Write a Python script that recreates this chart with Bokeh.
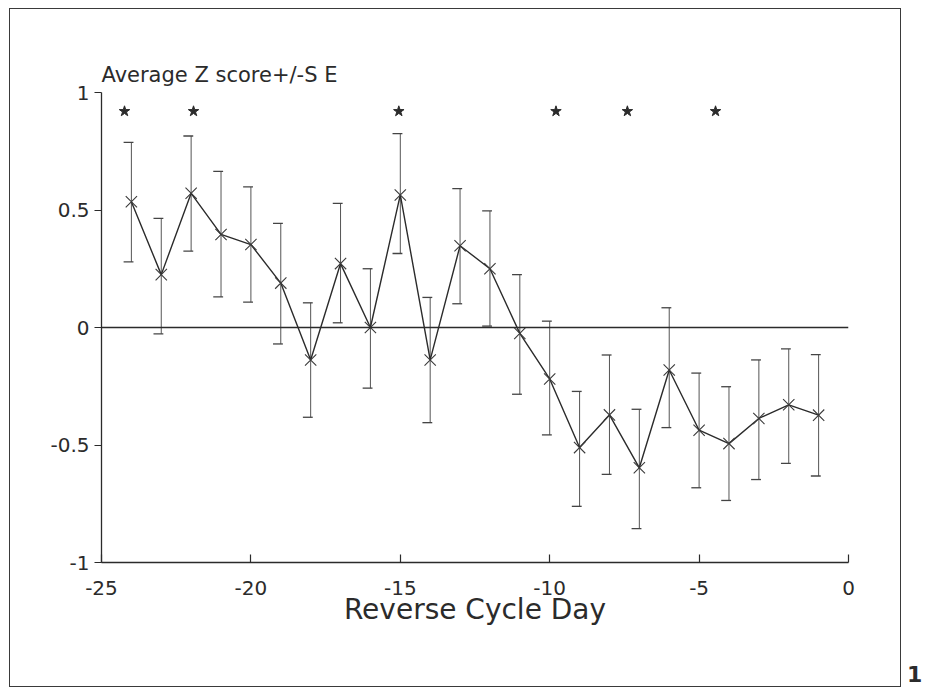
from bokeh.plotting import figure
from bokeh.models import Span, Title, Div, FixedTicker, Range1d
from bokeh.layouts import row
from bokeh.embed import file_html
from bokeh.resources import INLINE

days = list(range(-24, 0))
means = [0.535, 0.225, 0.571, 0.396, 0.353, 0.189, -0.138, 0.272, 0.0, 0.564,
         -0.138, 0.348, 0.25, -0.025, -0.219, -0.511, -0.372, -0.597, -0.181,
         -0.437, -0.494, -0.387, -0.329, -0.373]
upper = [0.788, 0.464, 0.815, 0.664, 0.598, 0.443, 0.105, 0.528, 0.25, 0.825,
         0.128, 0.591, 0.496, 0.225, 0.027, -0.272, -0.117, -0.348, 0.084,
         -0.194, -0.252, -0.138, -0.091, -0.115]
lower = [0.279, -0.027, 0.325, 0.13, 0.108, -0.07, -0.382, 0.02, -0.258, 0.315,
         -0.405, 0.101, 0.006, -0.284, -0.457, -0.761, -0.625, -0.856, -0.426,
         -0.682, -0.736, -0.647, -0.578, -0.632]
star_x = [-24.23, -21.92, -15.05, -9.79, -7.4, -4.45]
star_y = [0.92] * len(star_x)

x_ticks = [-25, -20, -15, -10, -5, 0]
y_ticks = [-1, -0.5, 0, 0.5, 1]
y_labels = {-1: "-1", -0.5: "-0.5", 0: "0", 0.5: "0.5", 1: "1"}
x_labels = {v: str(v) for v in x_ticks}

FONT = "DejaVu Sans"
INK = "#2b2b2b"

p = figure(width=892, height=679, output_backend="svg", toolbar_location=None,
           x_range=Range1d(-25, 0), y_range=Range1d(-1, 1),
           min_border_left=91, min_border_right=54, min_border_top=83,
           min_border_bottom=126, margin=(8, 0, 0, 9),
           styles={"border": "1.5px solid #3a3a3a", "box-sizing": "border-box"})
p.outline_line_color = None
p.grid.visible = False
p.background_fill_color = "#ffffff"
p.border_fill_color = "#ffffff"

t = Title(text="Average Z score+/-S E", align="left", text_font=FONT,
          text_font_size="21px", text_font_style="normal", text_color=INK,
          offset=0, standoff=12)
p.add_layout(t, "above")

# axes
p.xaxis.ticker = FixedTicker(ticks=x_ticks)
p.xaxis.major_label_overrides = x_labels
p.yaxis.ticker = FixedTicker(ticks=y_ticks)
p.yaxis.major_label_overrides = y_labels
for ax in (p.xaxis[0], p.yaxis[0]):
    ax.axis_line_color = INK
    ax.axis_line_width = 1.3
    ax.major_tick_line_color = INK
    ax.major_tick_line_width = 1.2
    ax.minor_tick_line_color = None
    ax.major_label_text_font = FONT
    ax.major_label_text_font_size = "20px"
    ax.major_label_text_color = INK
p.xaxis.major_tick_in = 8
p.xaxis.major_tick_out = 0
p.xaxis.major_label_standoff = 18
p.xaxis.axis_label = "Reverse Cycle Day"
p.xaxis.axis_label_text_font = FONT
p.xaxis.axis_label_text_font_size = "28px"
p.xaxis.axis_label_text_font_style = "normal"
p.xaxis.axis_label_text_color = INK
p.xaxis.axis_label_standoff = -5
p.yaxis.major_tick_in = 0
p.yaxis.major_tick_out = 7
p.yaxis.major_label_standoff = 5

# zero line
p.add_layout(Span(location=0, dimension="width", line_color=INK, line_width=1.3))

# error bars
p.segment(x0=days, y0=lower, x1=days, y1=upper, line_color="#555555", line_width=1)
cap_l = [d - 0.26 for d in days]
cap_r = [d + 0.07 for d in days]
p.segment(x0=cap_l, y0=upper, x1=cap_r, y1=upper, line_color="#444444", line_width=1.3)
p.segment(x0=cap_l, y0=lower, x1=cap_r, y1=lower, line_color="#444444", line_width=1.3)

# data line and markers
p.line(days, means, line_color=INK, line_width=1.4)
p.scatter(days, means, marker="x", size=16, line_color="#3a3a3a", line_width=1.1)

# significance stars
p.scatter(star_x, star_y, marker="star", size=11, fill_color=INK, line_color=INK)

page_no = Div(text="1", styles={"font-family": FONT, "font-size": "22px",
                               "color": INK, "font-weight": "bold"},
              margin=(659, 0, 0, 6))

layout = row(p, page_no)
open("out.html", "w").write(file_html(layout, INLINE))
